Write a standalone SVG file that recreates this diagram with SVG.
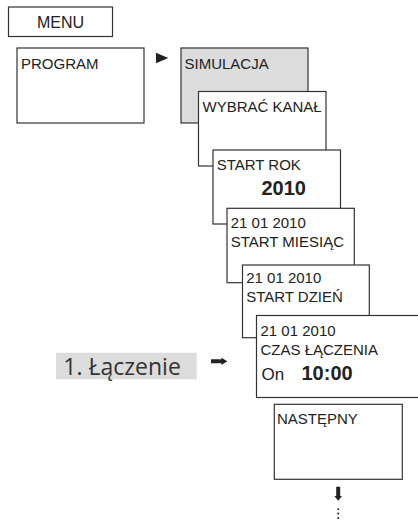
<svg xmlns="http://www.w3.org/2000/svg" width="418" height="520" viewBox="0 0 418 520">
<style>
.box{fill:#fff;stroke:#333;stroke-width:1.2}
.gray{fill:#dcdcdc}
.t{font-family:"Liberation Sans",Arial,sans-serif;font-size:15px;fill:#222}
.b{font-family:"Liberation Sans",Arial,sans-serif;font-size:20px;font-weight:bold;fill:#222}
.lbl{font-family:"Open Sans",sans-serif;font-size:23px;fill:#333}
.ar{fill:#222}
</style>
<rect width="418" height="520" fill="#fff"/>
<g id="menu">
<rect class="box" x="8.5" y="7" width="104" height="29.5"/>
<text class="t" x="60.5" y="28" text-anchor="middle" style="font-size:16px">MENU</text>
</g>
<g id="program">
<rect class="box" x="17" y="48" width="127" height="75"/>
<text class="t" x="21" y="69">PROGRAM</text>
</g>
<g id="simulacja">
<rect class="box gray" x="181" y="48" width="127" height="75"/>
<text class="t" x="184.5" y="69">SIMULACJA</text>
</g>
<g id="wybrac">
<rect class="box" x="198.5" y="91.5" width="127.5" height="74.5"/>
<text class="t" x="202.5" y="111.7">WYBRAĆ KANAŁ</text>
</g>
<g id="startrok">
<rect class="box" x="213" y="150" width="127.5" height="74"/>
<text class="t" x="216.7" y="170">START ROK</text>
<text class="b" x="261.5" y="195">2010</text>
</g>
<g id="startmiesiac">
<rect class="box" x="227" y="208.3" width="127.3" height="74.4"/>
<text class="t" x="230.7" y="228.3">21 01 2010</text>
<text class="t" x="230.7" y="246.7">START MIESIĄC</text>
</g>
<g id="startdzien">
<rect class="box" x="242.5" y="265" width="126.8" height="72.7"/>
<text class="t" x="246.2" y="283.3">21 01 2010</text>
<text class="t" x="246.2" y="301.7">START DZIEŃ</text>
</g>
<g id="czas">
<rect class="box" x="256.5" y="315.5" width="170" height="82"/>
<text class="t" x="260.5" y="336">21 01 2010</text>
<text class="t" x="260.5" y="355">CZAS ŁĄCZENIA</text>
<text class="t" x="261.5" y="380" style="font-size:17px">On</text>
<text class="b" x="301.5" y="380">10:00</text>
</g>
<g id="nastepny">
<rect class="box" x="274.3" y="404.3" width="128" height="75"/>
<text class="t" x="277" y="424.3">NASTĘPNY</text>
</g>
<g id="laczenie">
<rect class="gray" x="56" y="352.7" width="140.7" height="26.6"/>
<text class="lbl" x="63.3" y="375">1. Łączenie</text>
</g>
<g id="connectors">
<polygon class="ar" points="156,52.7 168.3,58 156,63.3"/>
<polygon class="ar" points="211,359.3 221.5,359.3 221.5,357.7 227.3,361.3 221.5,365 221.5,363.3 211,363.3"/>
<polygon class="ar" points="336.2,486.7 340.2,486.7 340.2,496 342,496 338.2,500.7 334.4,496 336.2,496"/>
<circle class="ar" cx="338.2" cy="509.3" r="1"/>
<circle class="ar" cx="338.2" cy="513.6" r="1"/>
<circle class="ar" cx="338.2" cy="518" r="1"/>
</g>
</svg>
